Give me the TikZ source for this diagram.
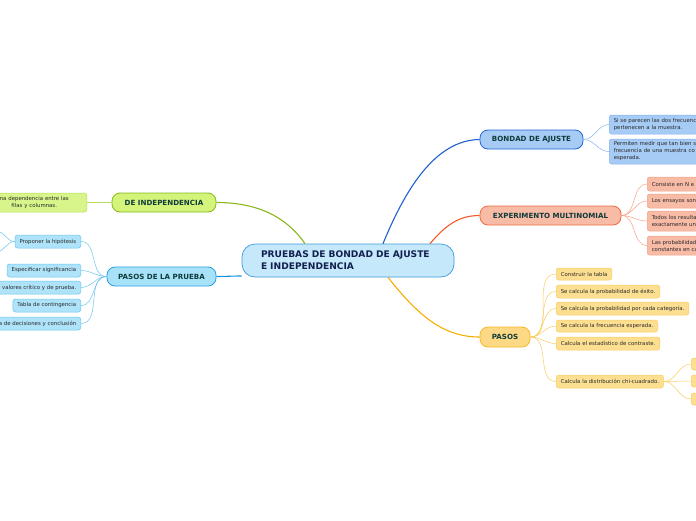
\documentclass[tikz,border=0pt]{standalone}
\usepackage{fontspec}
\setmainfont{DejaVu Sans}
\usetikzlibrary{calc}
\definecolor{txtdark}{HTML}{0E3B3A}
\definecolor{txtnavy}{HTML}{13204F}
\definecolor{leaftxt}{HTML}{2A2A2A}
\definecolor{cfill}{HTML}{C5E9FB}\definecolor{cdraw}{HTML}{3D9AD8}
\definecolor{bfill}{HTML}{A6CBF5}\definecolor{bdraw}{HTML}{2265D0}\definecolor{bedge}{HTML}{1F5FD0}\definecolor{bleaf}{HTML}{83B2EE}
\definecolor{efill}{HTML}{F8BBA6}\definecolor{edraw}{HTML}{EF6A3E}\definecolor{eedge}{HTML}{F25A28}\definecolor{eleaf}{HTML}{F3A084}
\definecolor{pfill}{HTML}{FDD986}\definecolor{pdraw}{HTML}{F7B925}\definecolor{pedge}{HTML}{F5AD00}\definecolor{plfill}{HTML}{FDDF92}\definecolor{pleaf}{HTML}{F9CD60}
\definecolor{dfill}{HTML}{D3F37A}\definecolor{ddraw}{HTML}{86BA1F}\definecolor{dedge}{HTML}{8AB81F}\definecolor{dlfill}{HTML}{D7F58A}\definecolor{dleaf}{HTML}{B5DE5C}
\definecolor{rfill}{HTML}{A8E2F9}\definecolor{rdraw}{HTML}{2AA0E0}\definecolor{redge}{HTML}{1A92D8}\definecolor{rlfill}{HTML}{AEE3F9}\definecolor{rleaf}{HTML}{6CC4EE}
\tikzset{
  mainbox/.style={draw=cdraw,fill=cfill,line width=0.7pt,rounded corners=13pt,minimum width=212pt,minimum height=33pt,text width=174pt,inner xsep=19pt,align=left,font=\bfseries\fontsize{9.1}{12}\selectfont,text=txtnavy},
  topic/.style={line width=0.8pt,rounded corners=8pt,minimum height=19pt,inner sep=0pt,font=\bfseries\fontsize{7.1}{8}\selectfont,text=txtdark},
  leaf/.style={line width=0.5pt,rounded corners=2.5pt,inner xsep=4.5pt,inner ysep=0pt,font=\fontsize{5.4}{7}\selectfont,text=leaftxt},
  rleafbox/.style={leaf,anchor=west,text width=120pt,align=left},
  mainedge/.style={line width=1.1pt},
  leafedge/.style={line width=0.5pt},
}
\begin{document}
\begin{tikzpicture}[x=1pt,y=-1pt]
\useasboundingbox (0,0) rectangle (696,520);
\clip (0,0) rectangle (696,520);
% central
\node[mainbox] (c) at (348,260.5) {PRUEBAS DE BONDAD DE AJUSTE\\E INDEPENDENCIA};
% topics
\node[topic,draw=bdraw,fill=bfill,minimum width=103pt] (bond) at (531.5,139.5) {BONDAD DE AJUSTE};
\node[topic,draw=edraw,fill=efill,minimum width=141pt] (expm) at (550.5,215.5) {EXPERIMENTO MULTINOMIAL};
\node[topic,draw=pdraw,fill=pfill,minimum width=50pt,minimum height=20pt] (pasos) at (505,337) {PASOS};
\node[topic,draw=ddraw,fill=dfill,minimum width=104pt] (dein) at (164,202.5) {DE INDEPENDENCIA};
\node[topic,draw=rdraw,fill=rfill,minimum width=109pt] (prueba) at (161.5,276.5) {PASOS DE LA PRUEBA};
% main edges
\draw[mainedge,bedge] ([xshift=35pt]c.north) .. controls (405,190) and (435,140) .. (bond.west);
\draw[mainedge,eedge] ([xshift=82pt]c.north) .. controls (445,226) and (458,215.5) .. (expm.west);
\draw[mainedge,pedge] ([xshift=40pt]c.south) .. controls (420,318) and (445,337) .. (pasos.west);
\draw[mainedge,dedge] ([xshift=-43pt]c.north) .. controls (285,215) and (255,202.5) .. (dein.east);
\draw[mainedge,redge] ([yshift=-1pt]c.west |- 0,275) .. controls (232,276) and (225,276.5) .. (prueba.east);
% bondad leaves
\node[rleafbox,draw=bleaf,fill=bfill,minimum height=19pt] (b1) at (609,124.5) {Si se parecen las dos frecuenc\\pertenecen a la muestra.};
\node[rleafbox,draw=bleaf,fill=bfill,minimum height=25pt] (b2) at (609,151.5) {Permiten medir que tan bien s\\frecuencia de una muestra co\\esperada.};
\foreach \n in {b1,b2} \draw[leafedge,bleaf] (bond.east) to[out=0,in=180] (\n.west);
% experimento leaves
\node[rleafbox,draw=eleaf,fill=efill,minimum height=14pt] (e1) at (647,184) {Consiste en N e};
\node[rleafbox,draw=eleaf,fill=efill,minimum height=14pt] (e2) at (647,201) {Los ensayos son};
\node[rleafbox,draw=eleaf,fill=efill,minimum height=20pt] (e3) at (647,221) {Todos los resulta\\exactamente un};
\node[rleafbox,draw=eleaf,fill=efill,minimum height=19pt] (e4) at (647,245.5) {Las probabilidad\\constantes en ca};
\foreach \n in {e1,e2,e3,e4} \draw[leafedge,eleaf] (expm.east) to[out=0,in=180] (\n.west);
% pasos leaves
\node[leaf,anchor=west,draw=pleaf,fill=plfill,minimum height=12pt] (p1) at (556,274) {Construir la tabla};
\node[leaf,anchor=west,draw=pleaf,fill=plfill,minimum height=13pt] (p2) at (556,291.5) {Se calcula la probabilidad de éxito.};
\node[leaf,anchor=west,draw=pleaf,fill=plfill,minimum height=13pt] (p3) at (556,308.5) {Se calcula la probabilidad por cada categoría.};
\node[leaf,anchor=west,draw=pleaf,fill=plfill,minimum height=12pt] (p4) at (556,326) {Se calcula la frecuencia esperada.};
\node[leaf,anchor=west,draw=pleaf,fill=plfill,minimum height=13pt] (p5) at (556,343.5) {Calcula el estadístico de contraste.};
\node[leaf,anchor=west,draw=pleaf,fill=plfill,minimum height=13pt] (p6) at (556,381.5) {Calcula la distribución chi-cuadrado.};
\foreach \n in {p1,p2,p3,p4,p5,p6} \draw[leafedge,pleaf] (pasos.east) to[out=0,in=180] (\n.west);
\node[leaf,anchor=west,draw=pleaf,fill=plfill,minimum height=12pt,minimum width=30pt] (q1) at (691,364) {};
\node[leaf,anchor=west,draw=pleaf,fill=plfill,minimum height=12pt,minimum width=30pt] (q2) at (691,381) {};
\node[leaf,anchor=west,draw=pleaf,fill=plfill,minimum height=12pt,minimum width=30pt] (q3) at (691,399) {};
\foreach \n in {q1,q2,q3} \draw[leafedge,pleaf] (p6.east) to[out=0,in=180] (\n.west);
% de independencia leaf
\node[leaf,anchor=east,draw=dleaf,fill=dlfill,minimum height=19pt,text width=96pt,align=center] (d1) at (87,202.5) {na dependencia entre las\\filas y columnas.};
\draw[leafedge,dleaf] (dein.west) -- (d1.east);
% prueba leaves
\node[leaf,anchor=east,draw=rleaf,fill=rlfill,minimum height=13pt] (l1) at (81,241.5) {Proponer la hipótesis};
\node[leaf,anchor=east,draw=rleaf,fill=rlfill,minimum height=13pt] (l2) at (81,270.5) {Especificar significancia};
\node[leaf,anchor=east,draw=rleaf,fill=rlfill,minimum height=13pt,text width=100pt,align=right] (l3) at (81,287.5) {valores crítico y de prueba.};
\node[leaf,anchor=east,draw=rleaf,fill=rlfill,minimum height=13pt] (l4) at (81,305.5) {Tabla de contingencia};
\node[leaf,anchor=east,draw=rleaf,fill=rlfill,minimum height=13pt,text width=100pt,align=right] (l5) at (81,323.5) {a de decisiones y conclusión};
\foreach \n in {l1,l2,l3,l4,l5} \draw[leafedge,rleaf] (prueba.west) to[out=180,in=0] (\n.east);
\coordinate (h1) at (-4,231);
\coordinate (h2) at (-4,252);
\foreach \n in {h1,h2} \draw[leafedge,rleaf] (l1.west) to[out=180,in=0] (\n);
\end{tikzpicture}
\end{document}
